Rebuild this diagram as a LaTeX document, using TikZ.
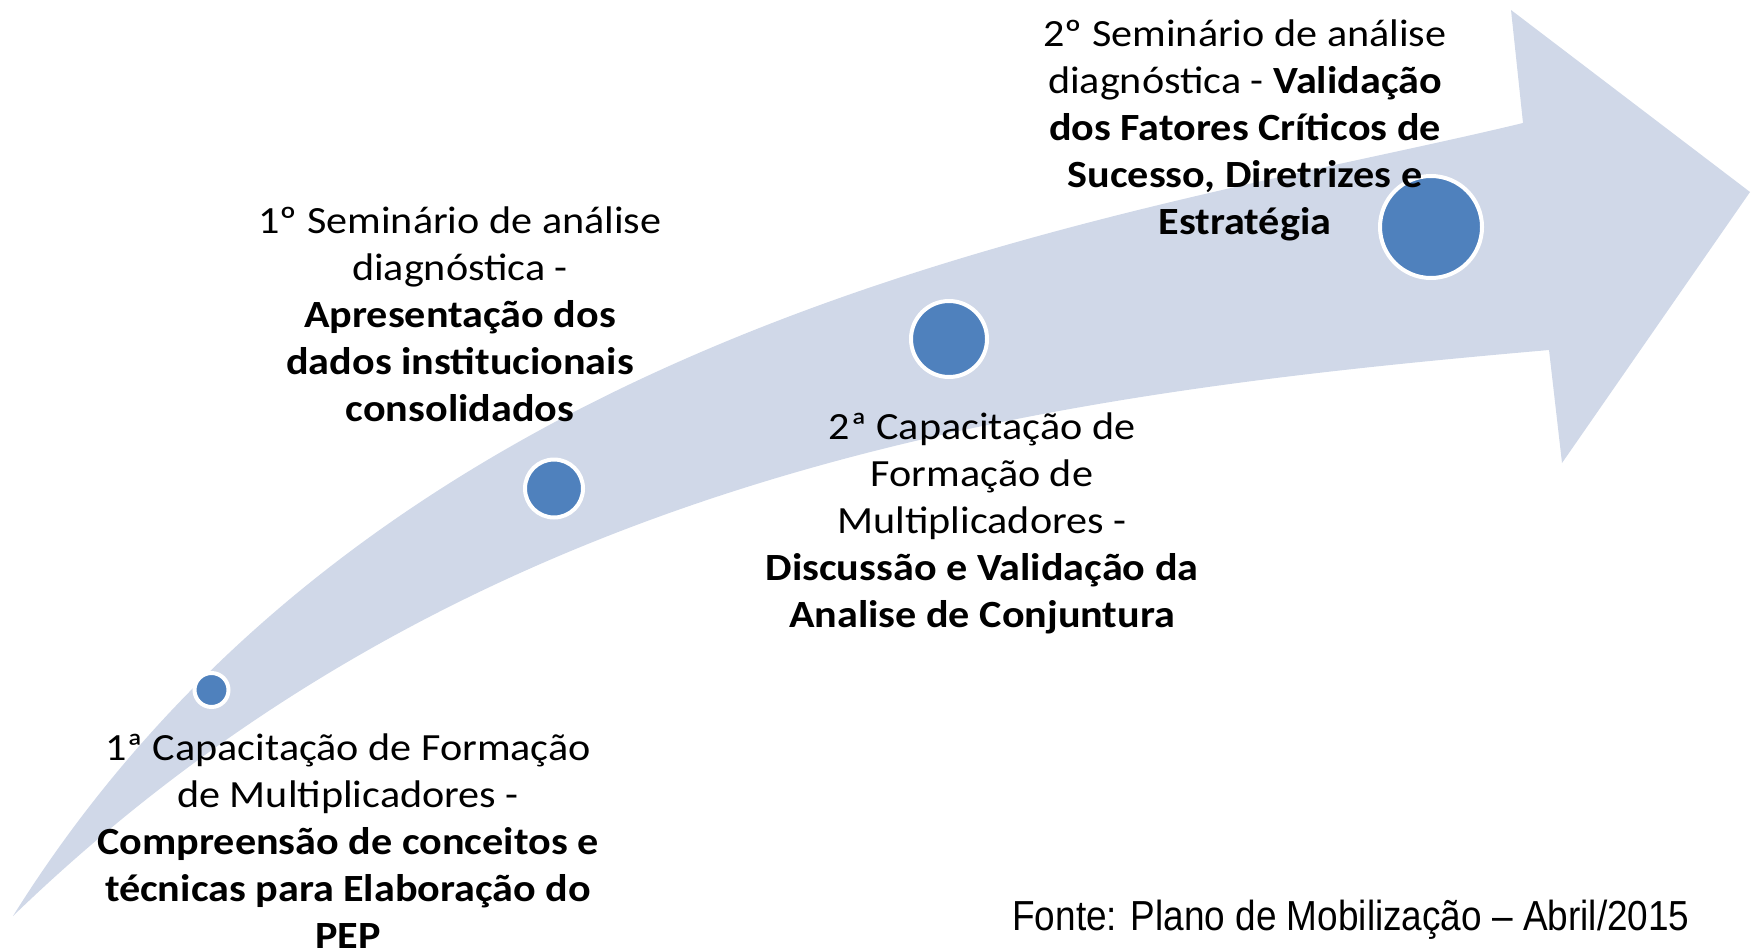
\documentclass[tikz,border=0pt]{standalone}
\usepackage{fontspec}
\setmainfont{Carlito}[FakeStretch=1.095]
\newfontfamily\arialf{Liberation Sans}
\definecolor{bandc}{HTML}{D0D8E8}
\definecolor{dotc}{HTML}{4F81BD}
\begin{document}
\begin{tikzpicture}[x=0.5pt,y=-0.5pt,
  dot/.style={circle,draw=white,line width=2pt,fill=dotc,inner sep=0pt},
  lbl/.style={align=center,font=\fontsize{19.25}{23.5}\selectfont,inner sep=0pt},
  src/.style={font=\arialf\fontsize{21}{25}\selectfont,inner sep=0pt}]
\useasboundingbox (0,0) rectangle (1754,947);
\fill[bandc] (13,916) .. controls (395,305) and (1134,217) .. (1523,123)
  -- (1511,10) -- (1750,192) -- (1562,463) -- (1549,350)
  .. controls (1051,393.6) and (480.6,464.5) .. (13,916) -- cycle;
\node[dot,minimum size=17pt] (d1) at (211.5,690) {};
\node[dot,minimum size=29pt] (d2) at (554,488.5) {};
\node[dot,minimum size=38pt] (d3) at (949,339) {};
\node[dot,minimum size=51pt] (d4) at (1431,227) {};
\node[lbl] (t1) at (348,841) {1ª Capacitação de Formação\\de Multiplicadores -\\\textbf{Compreensão de conceitos e}\\\textbf{técnicas para Elaboração do}\\\textbf{PEP}};
\node[lbl] (t2) at (460,314) {1º Seminário de análise\\diagnóstica -\\\textbf{Apresentação dos}\\\textbf{dados institucionais}\\\textbf{consolidados}};
\node[lbl] (t3) at (982,523) {2ª Capacitação de\\Formação de\\Multiplicadores -\\\textbf{Discussão e Validação da}\\\textbf{Analise de Conjuntura}};
\node[lbl] (t4) at (1245,130) {2º Seminário de análise\\diagnóstica - \textbf{Validação}\\\textbf{dos Fatores Críticos de}\\\textbf{Sucesso, Diretrizes e}\\\textbf{Estratégia}};
\node[src] (fonte) at (1351,920) {\scalebox{0.88}[1]{Fonte: Plano de Mobilização – Abril/2015}};
\end{tikzpicture}
\end{document}
